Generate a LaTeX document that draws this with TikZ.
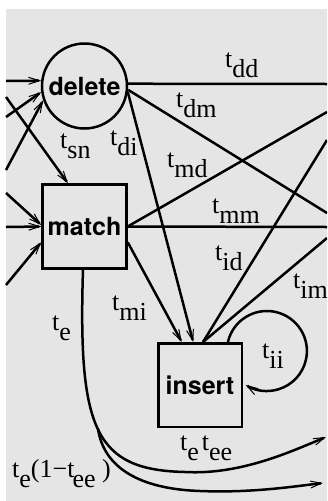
\documentclass[tikz,border=0pt]{standalone}
\usepackage{fontspec}
\setmainfont{Liberation Serif}
\newfontfamily\heros{TeX Gyre Heros}
\usetikzlibrary{arrows.meta}
\newcommand\tlab[1]{t\raisebox{-0.4em}{#1}}

\begin{document}
\begin{tikzpicture}[
    x=1pt,y=1pt,
    state/.style={draw=black, line width=2.5pt, inner sep=0pt,
        font=\heros\bfseries\fontsize{25}{30}\selectfont},
    trans/.style={draw=black, line width=2.5pt},
    arr/.style={-{Straight Barb[length=11pt,width=7pt,line width=1pt]}},
    lbl/.style={anchor=base west, inner sep=0pt, font=\fontsize{26}{30}\selectfont}
]

\useasboundingbox (0,0) rectangle (327,-501);
\clip (0,0) rectangle (327,-501);
\fill[black!10] (6,-9) rectangle (330,-505);

\node[state,circle,minimum size=85pt] (delete) at (84.5,-86) {delete};
\node[state,rectangle,minimum size=84pt] (match) at (84.5,-226.5) {match};
\node[state,rectangle,minimum size=83.5pt] (insert) at (200,-385) {insert};

% free ends on the border
\coordinate (dIn1) at (6,-81);
\coordinate (dIn2) at (6,-117);
\coordinate (dIn3) at (6,-170);
\coordinate (mIn0) at (6,-97);
\coordinate (mIn1) at (6,-193);
\coordinate (mIn2) at (6,-227);
\coordinate (mIn3) at (6,-285);
\coordinate (ddEnd) at (327,-84);
\coordinate (dmEnd) at (327,-213);
\coordinate (mdEnd) at (327,-112);
\coordinate (mmEnd) at (327,-227);
\coordinate (idEnd) at (327,-140);
\coordinate (imEnd) at (327,-238);
\coordinate (eEnd) at (326,-437);
\coordinate (split) at (98,-429);
\coordinate (neEnd) at (323,-483);

\draw[trans,arr] (dIn1) -- (delete.173);
\draw[trans,arr] (dIn2) -- (delete.188);
\draw[trans,arr] (dIn3) -- (delete.199);
\draw[trans,arr] (mIn0) -- (match.111);
\draw[trans,arr] (mIn1) -- (match.178);
\draw[trans,arr] (mIn2) -- (match.west);
\draw[trans,arr] (mIn3) -- (match.200);

\draw[trans] (delete.3) -- (ddEnd);
\draw[trans] (delete.-5) -- (dmEnd);
\draw[trans,arr] (delete.-8) -- (insert.99);
\draw[trans] (match.east) -- (mdEnd);
\draw[trans] (match.east) -- (mmEnd);
\draw[trans,arr] (match.-20) -- (insert.113);
\draw[trans] (insert.86) -- (idEnd);
\draw[trans] (insert.86) -- (imEnd);
\draw[trans,arr] (insert.57) arc[start angle=167,end angle=-122,radius=40];

\draw[trans,arr] (match.268) .. controls (78,-430) and (95,-470) .. (185,-472)
    .. controls (240,-475) and (290,-452) .. (eEnd);
\draw[trans,arr] (split) .. controls (104,-468) and (140,-489) .. (200,-491)
    .. controls (250,-493) and (290,-487) .. (neEnd);

\node[lbl] (ldd) at (225,-67) {\tlab{dd}};
\node[lbl] (ldm) at (176,-107) {\tlab{dm}};
\node[lbl] (lsn) at (60,-148) {\tlab{sn}};
\node[lbl] (ldi) at (110,-145) {\tlab{di}};
\node[lbl] (lmd) at (167,-167) {\tlab{md}};
\node[lbl] (lmm) at (212,-213) {\tlab{mm}};
\node[lbl] (lid) at (215,-260) {\tlab{id}};
\node[lbl] (lim) at (293,-288) {\tlab{im}};
\node[lbl] (lmi) at (112,-310) {\tlab{mi}};
\node[lbl] (le) at (52,-330) {\tlab{e}};
\node[lbl] (lii) at (262,-358) {\tlab{ii}};
\node[lbl] (lee) at (180,-450) {\tlab{e}\kern3pt\tlab{ee}};
\node[lbl] (lne) at (12,-477) {\tlab{e}(1−t\kern-2pt\raisebox{-0.4em}{ee}\ )};

\end{tikzpicture}
\end{document}
